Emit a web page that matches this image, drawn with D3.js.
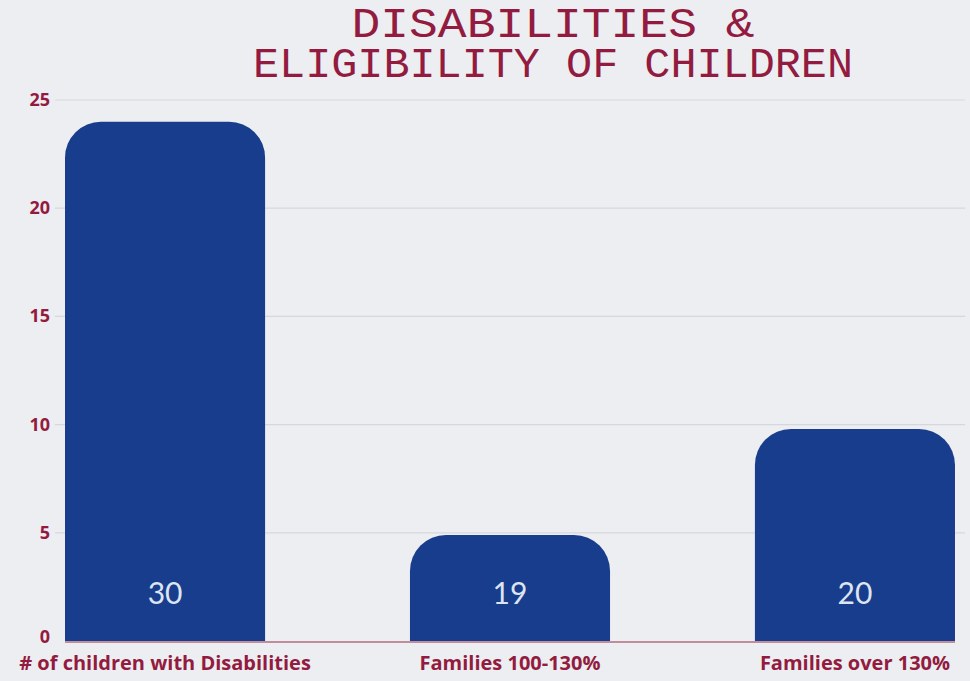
<!DOCTYPE html>
<html><head><meta charset="utf-8">
<script src="https://cdn.jsdelivr.net/npm/d3@7"></script>
<style>
html,body{margin:0;padding:0;background:#eceef2;}
svg{display:block;}
</style></head>
<body>
<script>
const titleLines = ["DISABILITIES &", "ELIGIBILITY OF CHILDREN"];
const categories = ["# of children with Disabilities", "Families 100-130%", "Families over 130%"];
const values = [24, 4.9, 9.8];
const valueLabels = ["30", "19", "20"];
const yTicks = [0, 5, 10, 15, 20, 25];

const W = 970, H = 681;
const crimson = "#931b40";
const navy = "#183d8c";

const svg = d3.select("body").append("svg").attr("width", W).attr("height", H);

svg.append("rect").attr("width", W).attr("height", H).attr("fill", "#eceef1");

const x = d3.scaleBand().domain(categories).range([40, 980]).paddingInner(0.42).paddingOuter(0.0725);
const y = d3.scaleLinear().domain([0, 25]).range([641, 100]);

// gridlines
svg.append("g").selectAll("line").data(yTicks.filter(d => d > 0)).join("line")
  .attr("x1", 55).attr("x2", 965)
  .attr("y1", d => y(d)).attr("y2", d => y(d))
  .attr("stroke", "#d6d7dc").attr("stroke-width", 1.2);

// y axis labels
const yAxis = d3.axisLeft(y).tickValues(yTicks).tickSize(0).tickPadding(0);
const gy = svg.append("g").attr("transform", "translate(50,0)").call(yAxis);
gy.select(".domain").remove();
gy.selectAll("text")
  .attr("fill", crimson)
  .attr("dy", "0.3em")
  .style("font-family", "'Open Sans', sans-serif")
  .style("font-weight", "700")
  .style("font-size", "18px");
gy.selectAll(".tick").filter(d => d === 0).select("text").attr("dy", "0.1em");

// baseline
svg.append("line").attr("x1", x(categories[0])).attr("x2", x(categories[2]) + x.bandwidth())
  .attr("y1", y(0) + 1).attr("y2", y(0) + 1)
  .attr("stroke", "#b56c7c").attr("stroke-width", 1.5);

function topRounded(x0, y0, w, h, r) {
  r = Math.min(r, w / 2, h);
  const p = d3.path();
  p.moveTo(x0, y0 + h);
  p.lineTo(x0, y0 + r);
  p.arcTo(x0, y0, x0 + r, y0, r);
  p.lineTo(x0 + w - r, y0);
  p.arcTo(x0 + w, y0, x0 + w, y0 + r, r);
  p.lineTo(x0 + w, y0 + h);
  p.closePath();
  return p.toString();
}
svg.append("g").selectAll("path").data(categories).join("path")
  .attr("d", (c, i) => topRounded(x(c), y(values[i]), x.bandwidth(), y(0) - y(values[i]), 36))
  .attr("fill", navy);

// value labels
svg.append("g").selectAll("text").data(categories).join("text")
  .attr("x", c => x(c) + x.bandwidth() / 2)
  .attr("y", y(0) - 37)
  .attr("text-anchor", "middle")
  .attr("fill", "#dde4f2")
  .style("font-family", "Lato, sans-serif")
  .style("font-weight", "400")
  .style("font-size", "30px")
  .text((c, i) => valueLabels[i]);

// category labels
const xAxis = d3.axisBottom(x).tickSize(0).tickPadding(0);
const gx = svg.append("g").attr("transform", `translate(0,${y(0) + 29})`).call(xAxis);
gx.select(".domain").remove();
gx.selectAll("text")
  .attr("fill", crimson)
  .attr("dy", "0")
  .style("font-family", "'Open Sans', sans-serif")
  .style("font-weight", "700")
  .style("font-size", "20px");

// title (one text element, two lines)
const titleWidths = [403, 600];
const title = svg.append("text")
  .attr("text-anchor", "middle")
  .attr("fill", crimson)
  .style("font-family", "'Liberation Mono', monospace")
  .style("font-size", "42px");
title.selectAll("tspan").data(titleLines).join("tspan")
  .attr("x", 553)
  .attr("y", (d, i) => 37 + i * 40)
  .attr("textLength", (d, i) => titleWidths[i])
  .attr("lengthAdjust", "spacingAndGlyphs")
  .text(d => d);
</script>
</body></html>
